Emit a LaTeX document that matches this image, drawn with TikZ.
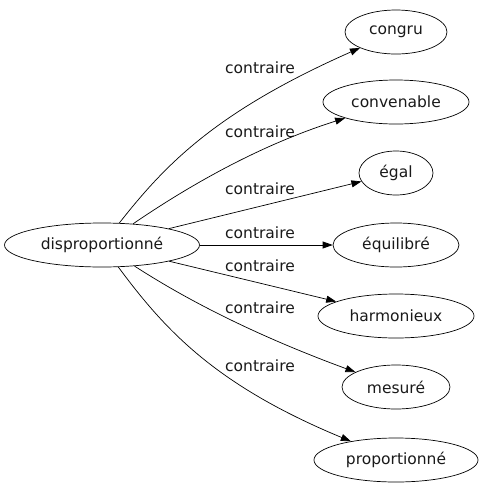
\documentclass[tikz,border=0pt]{standalone}
\usepackage{fontspec}
\setmainfont{DejaVu Sans}
\usetikzlibrary{shapes.geometric,arrows.meta}
\begin{document}
\begin{tikzpicture}[x=1pt,y=-1pt,
  word/.style={draw,ellipse,inner sep=0pt,minimum height=44pt,line width=0.7pt,font=\fontsize{15.5}{18}\selectfont,text=black!90},
  lab/.style={inner sep=0pt,font=\fontsize{15.5}{18}\selectfont,text=black!90},
  rel/.style={-{Triangle[length=10pt,width=7pt]},line width=0.7pt}]
\useasboundingbox (0,0) rectangle (483,491);
\node[word,minimum width=195pt] (c) at (102,245) {disproportionné};
\node[word,minimum width=102pt] (n1) at (396,32) {congru};
\node[word,minimum width=146pt] (n2) at (396,102) {convenable};
\node[word,minimum width=74pt] (n3) at (396,173) {égal};
\node[word,minimum width=126pt] (n4) at (396,245) {équilibré};
\node[word,minimum width=156pt] (n5) at (396,316) {harmonieux};
\node[word,minimum width=108pt] (n6) at (396,387) {mesuré};
\node[word,minimum width=164pt] (n7) at (396,460) {proportionné};
\node[lab] (l1) at (260,68) {contraire};
\node[lab] (l2) at (260,132) {contraire};
\node[lab] (l3) at (260,189) {contraire};
\node[lab] (l4) at (260,233) {contraire};
\node[lab] (l5) at (260,266) {contraire};
\node[lab] (l6) at (260,308) {contraire};
\node[lab] (l7) at (260,366) {contraire};
\draw[rel] (c) .. controls (165,165) and (215,112) .. (n1);
\draw[rel] (c) .. controls (190,185) and (260,145) .. (n2);
\draw[rel] (c) -- (n3);
\draw[rel] (c) -- (n4);
\draw[rel] (c) -- (n5);
\draw[rel] (c) .. controls (190,302) and (260,337) .. (n6);
\draw[rel] (c) .. controls (165,330) and (215,385) .. (n7);
\end{tikzpicture}
\end{document}
